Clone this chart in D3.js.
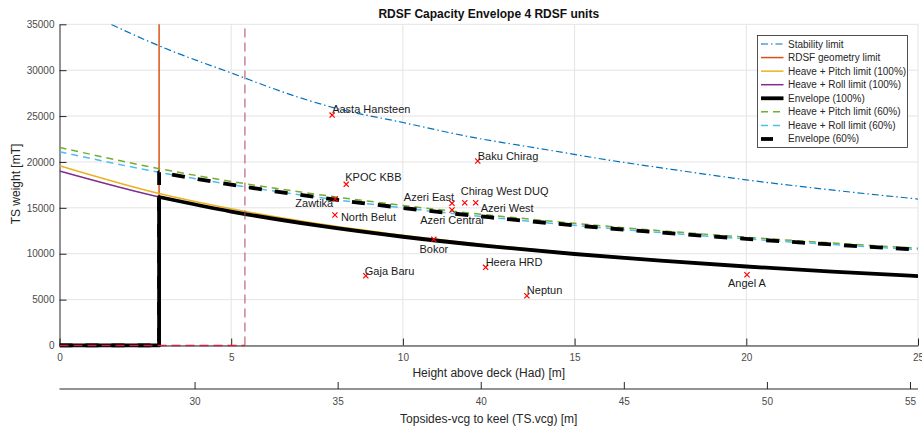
<!DOCTYPE html>
<html>
<head>
<meta charset="utf-8">
<script src="https://cdn.jsdelivr.net/npm/d3@7"></script>
<style>
  html, body { margin: 0; padding: 0; background: #fff; }
  svg { display: block; font-family: "Liberation Sans", Arial, Helvetica, sans-serif; }
</style>
</head>
<body>
<svg id="chart" width="922" height="428"></svg>
<script>
// ---- data ----------------------------------------------------------------
// Height above deck (Had) sample points [m] and TS weight limits [mT]
const stabilityHad = [0, 1.5, 3, 5, 7, 8, 10, 12, 14, 16, 18, 20, 22, 25];
const stabilityW   = [37800, 35000, 32500, 29700, 27000, 25900, 24300, 22700, 21450, 20200, 19100, 18050, 17150, 15960];

const limitHad   = [0, 2.9, 5, 7.5, 10, 12.5, 15, 17.5, 20, 22.5, 25];
const pitch100W  = [19590, 16560, 14890, 13290, 12010, 10950, 10060, 9310, 8660, 8090, 7600];
const roll100W   = [19010, 16180, 14600, 13080, 11850, 10830, 9970, 9240, 8610, 8050, 7570];
const pitch60W   = [21590, 19270, 17880, 16470, 15260, 14220, 13310, 12510, 11800, 11170, 10600];
const roll60W    = [21110, 18880, 17530, 16160, 14990, 13980, 13090, 12310, 11620, 11000, 10450];

// RDSF geometry limit (vertical line)
const geometryHad = 2.9;
const geometryW   = [0, 40000];

// Envelopes: zero below the geometry limit, then the governing (roll) limit
const envelope100Had = [0, 2.9, 2.9, 5, 7.5, 10, 12.5, 15, 17.5, 20, 22.5, 25];
const envelope100W   = [0, 0, 16180, 14600, 13080, 11850, 10830, 9970, 9240, 8610, 8050, 7570];
const envelope60Had  = [0, 2.9, 2.9, 5, 7.5, 10, 12.5, 15, 17.5, 20, 22.5, 25];
const envelope60W    = [0, 0, 18880, 17530, 16160, 14990, 13980, 13090, 12310, 11620, 11000, 10450];

// Auxiliary dashed boundary
const boundaryHad = [0, 5.4, 5.4];
const boundaryW   = [0, 0, 40000];

// Reference platforms
const platformNames = ["Aasta Hansteen", "KPOC KBB", "Zawtika", "North Belut", "Azeri East",
  "Azeri Central", "Chirag West DUQ", "Azeri West", "Baku Chirag", "Bokor", "Gaja Baru",
  "Heera HRD", "Neptun", "Angel A"];
const platformHad = [7.94, 8.35, 8.03, 8.02, 11.43, 11.43, 11.80, 12.12, 12.18, 10.90, 8.92, 12.41, 13.61, 20.02];
const platformW   = [25110, 17560, 15960, 14220, 15490, 14760, 15560, 15560, 20100, 11570, 7600, 8520, 5420, 7710];

// Axis ticks
const xTicks  = [0, 5, 10, 15, 20, 25];
const yTicks  = [0, 5000, 10000, 15000, 20000, 25000, 30000, 35000];
const x2Ticks = [30, 35, 40, 45, 50, 55];

// ---- layout ----------------------------------------------------------------
const svg = d3.select("#chart");
const L = 59.5, R = 918, T = 24.3, B = 345.5, B2 = 389;

const x  = d3.scaleLinear().domain([0, 25]).range([L, R]);
const y  = d3.scaleLinear().domain([0, 35000]).range([B, T]);
const x2 = d3.scaleLinear().domain([25.28, 55.28]).range([L, R]);

const gridColor = "#e4e4e4";
const axisColor = "#262626";
const tickText  = "#4a4a4a";

svg.append("defs").append("clipPath").attr("id", "plotClip")
  .append("rect").attr("x", L).attr("y", T).attr("width", R - L).attr("height", B - T + 2);

// gridlines
const grid = svg.append("g");
grid.selectAll("line.gy").data(yTicks).join("line")
  .attr("x1", L).attr("x2", R).attr("y1", d => y(d)).attr("y2", d => y(d))
  .attr("stroke", gridColor).attr("stroke-width", 1);
grid.selectAll("line.gx").data(xTicks.slice(1)).join("line")
  .attr("x1", d => x(d)).attr("x2", d => x(d)).attr("y1", T).attr("y2", B)
  .attr("stroke", gridColor).attr("stroke-width", 1);

// axes
function styleAxis(g, fontSize) {
  g.selectAll("path.domain").attr("stroke", axisColor).attr("stroke-width", 1);
  g.selectAll(".tick line").attr("stroke", axisColor).attr("stroke-width", 1);
  g.selectAll(".tick text").attr("fill", tickText).attr("font-size", fontSize)
    .attr("font-family", "Liberation Sans, Arial, sans-serif");
}
const gx = svg.append("g").attr("transform", `translate(0,${B})`)
  .call(d3.axisBottom(x).tickValues(xTicks).tickFormat(d3.format("d")).tickSizeInner(-7).tickSizeOuter(0).tickPadding(8));
styleAxis(gx, 10);
const gy = svg.append("g").attr("transform", `translate(${L},0)`)
  .call(d3.axisLeft(y).tickValues(yTicks).tickFormat(d3.format("d")).tickSizeInner(-7).tickSizeOuter(0).tickPadding(5));
styleAxis(gy, 10);
const gx2 = svg.append("g").attr("transform", `translate(0,${B2})`)
  .call(d3.axisBottom(x2).tickValues(x2Ticks).tickFormat(d3.format("d")).tickSizeInner(-7).tickSizeOuter(0).tickPadding(9));
styleAxis(gx2, 10);
gx2.select("path.domain").attr("d", `M${L},0H${R}`);

// titles
svg.append("text").attr("x", (L + R) / 2).attr("y", 14).attr("dy", "0.35em")
  .attr("text-anchor", "middle").attr("font-size", 12).attr("font-weight", "bold")
  .attr("fill", "#111").text("RDSF Capacity Envelope 4 RDSF units");
svg.append("text").attr("x", (L + R) / 2).attr("y", 373).attr("dy", "0.35em")
  .attr("text-anchor", "middle").attr("font-size", 12).attr("fill", axisColor)
  .text("Height above deck (Had) [m]");
svg.append("text").attr("x", (L + R) / 2).attr("y", 419).attr("dy", "0.35em")
  .attr("text-anchor", "middle").attr("font-size", 12).attr("fill", axisColor)
  .text("Topsides-vcg to keel (TS.vcg) [m]");
svg.append("text").attr("transform", "translate(16,184) rotate(-90)").attr("dy", "0.35em")
  .attr("text-anchor", "middle").attr("font-size", 12).attr("fill", axisColor)
  .text("TS weight [mT]");

// ---- series ----------------------------------------------------------------
const plot = svg.append("g").attr("clip-path", "url(#plotClip)");
const smooth = d3.line().x(d => x(d[0])).y(d => y(d[1])).curve(d3.curveMonotoneX);
const straight = d3.line().x(d => x(d[0])).y(d => y(d[1]));
const zip = (a, b) => a.map((v, i) => [v, b[i]]);

const series = [
  { name: "Stability limit", pts: zip(stabilityHad, stabilityW), color: "#0072BD", width: 1.2, dash: "7,3,1.5,3", gen: smooth },
  { name: "RDSF geometry limit", pts: geometryW.map(w => [geometryHad, w]), color: "#D95319", width: 1.5, dash: null, gen: straight },
  { name: "Heave + Pitch limit (100%)", pts: zip(limitHad, pitch100W), color: "#EDB120", width: 1.5, dash: null, gen: smooth },
  { name: "Heave + Roll limit (100%)", pts: zip(limitHad, roll100W), color: "#7E2F8E", width: 1.5, dash: null, gen: smooth },
  { name: "Envelope (100%)", pts: zip(envelope100Had, envelope100W), color: "#000000", width: 3.8, dash: null, gen: null },
  { name: "Heave + Pitch limit (60%)", pts: zip(limitHad, pitch60W), color: "#77AC30", width: 1.5, dash: "7,5", gen: smooth },
  { name: "Heave + Roll limit (60%)", pts: zip(limitHad, roll60W), color: "#4DBEEE", width: 1.5, dash: "7,5", gen: smooth },
  { name: "Envelope (60%)", pts: zip(envelope60Had, envelope60W), color: "#000000", width: 3.8, dash: "13,13", gen: null }
];

// envelope paths: straight on the step, smooth along the limit curve
function envelopePath(p) {
  const head = p.slice(0, 3);
  const tail = p.slice(2);
  return straight(head) + smooth(tail).replace(/^M/, "L");
}

series.forEach(s => {
  plot.append("path")
    .attr("d", s.gen ? s.gen(s.pts) : envelopePath(s.pts))
    .attr("fill", "none").attr("stroke", s.color).attr("stroke-width", s.width)
    .attr("stroke-dasharray", s.dash).attr("stroke-linejoin", "round");
});

// dashed boundary: horizontal leg along the deck, thin vertical leg at its end
const boundary = zip(boundaryHad, boundaryW);
plot.append("path").attr("d", straight(boundary.slice(0, 2)))
  .attr("fill", "none").attr("stroke", "#D0203C").attr("stroke-width", 1.5)
  .attr("stroke-dasharray", "9,5");
plot.append("path").attr("d", straight(boundary.slice(1)))
  .attr("fill", "none").attr("stroke", "#B0445F").attr("stroke-width", 1)
  .attr("stroke-dasharray", "9,5");

// platform markers
const marks = svg.append("g");
const mk = 2.6;
platformNames.forEach((n, i) => {
  const cx = x(platformHad[i]), cy = y(platformW[i]);
  marks.append("path")
    .attr("d", `M${cx - mk},${cy - mk}L${cx + mk},${cy + mk}M${cx - mk},${cy + mk}L${cx + mk},${cy - mk}`)
    .attr("stroke", "#FF0000").attr("stroke-width", 1.2).attr("fill", "none");
});

// label placement around each marker
const labelPlacement = {
  "Aasta Hansteen":  { anchor: "start",  dx: 0,  dy: -6 },
  "KPOC KBB":        { anchor: "start",  dx: -1, dy: -7 },
  "Zawtika":         { anchor: "end",    dx: -2, dy: 4 },
  "North Belut":     { anchor: "start",  dx: 6,  dy: 2 },
  "Azeri East":      { anchor: "end",    dx: 2,  dy: -6 },
  "Azeri Central":   { anchor: "middle", dx: 0,  dy: 10 },
  "Chirag West DUQ": { anchor: "start",  dx: -4, dy: -12 },
  "Azeri West":      { anchor: "start",  dx: 5,  dy: 5 },
  "Baku Chirag":     { anchor: "start",  dx: 0,  dy: -5 },
  "Bokor":           { anchor: "middle", dx: 0,  dy: 10 },
  "Gaja Baru":       { anchor: "start",  dx: -1, dy: -5 },
  "Heera HRD":       { anchor: "start",  dx: 0,  dy: -5 },
  "Neptun":          { anchor: "start",  dx: 0,  dy: -6 },
  "Angel A":         { anchor: "middle", dx: 0,  dy: 8 }
};
platformNames.forEach((n, i) => {
  const p = labelPlacement[n];
  marks.append("text")
    .attr("x", x(platformHad[i]) + p.dx).attr("y", y(platformW[i]) + p.dy)
    .attr("dy", "0.35em").attr("text-anchor", p.anchor)
    .attr("font-size", 11).attr("fill", "#1a1a1a").text(n);
});

// ---- legend ----------------------------------------------------------------
const lg = svg.append("g");
lg.append("rect").attr("x", 757.5).attr("y", 35.5).attr("width", 150).attr("height", 112)
  .attr("fill", "#fff").attr("stroke", axisColor).attr("stroke-width", 0.8);
series.forEach((s, i) => {
  const ly = 44 + i * 13.57;
  const isEnv60 = s.name === "Envelope (60%)";
  lg.append("line").attr("x1", 761).attr("x2", isEnv60 ? 773 : 783.5)
    .attr("y1", ly).attr("y2", ly)
    .attr("stroke", s.color).attr("stroke-width", s.width)
    .attr("stroke-dasharray", isEnv60 ? null : s.dash);
  lg.append("text").attr("x", 788).attr("y", ly).attr("dy", "0.35em")
    .attr("font-size", 10).attr("fill", axisColor).text(s.name);
});
</script>
</body>
</html>
